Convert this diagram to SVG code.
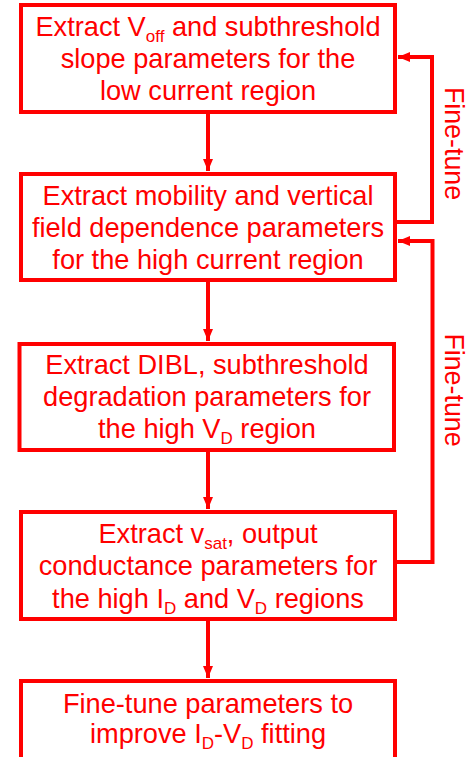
<svg xmlns="http://www.w3.org/2000/svg" width="471" height="757" viewBox="0 0 471 757">
<style>
.box{fill:#fff;stroke:#ff0000;stroke-width:4}
.t{font-family:"Liberation Sans",Arial,sans-serif;font-size:27.2px;fill:#ff0000;text-anchor:middle}
.s{font-size:17px}
.c{fill:none;stroke:#ff0000;stroke-width:4}
.lbl{font-family:"Liberation Sans",Arial,sans-serif;font-size:26.8px;fill:#ff0000;text-anchor:middle}
</style>
<defs>
<marker id="ah" viewBox="0 0 12 10" refX="12" refY="5" markerWidth="12" markerHeight="10" markerUnits="userSpaceOnUse" orient="auto">
<path d="M0,0 L12,5 L0,10 Z" fill="#ff0000"/>
</marker>
</defs>
<rect width="471" height="757" fill="#fff"/>
<g id="connectors">
<line class="c" x1="208" y1="114" x2="208" y2="171" marker-end="url(#ah)"/>
<line class="c" x1="208" y1="282" x2="208" y2="341" marker-end="url(#ah)"/>
<line class="c" x1="208" y1="452" x2="208" y2="509" marker-end="url(#ah)"/>
<line class="c" x1="208" y1="621" x2="208" y2="678" marker-end="url(#ah)"/>
<polyline class="c" points="397,222 432,222 432,57 398,57" marker-end="url(#ah)"/>
<polyline class="c" points="397,562 432.5,562 432.5,241 398,241" marker-end="url(#ah)"/>
<text class="lbl" transform="translate(445,143.5) rotate(90)">Fine-tune</text>
<text class="lbl" transform="translate(445,390) rotate(90)">Fine-tune</text>
</g>
<g id="n1">
<rect class="box" x="21" y="5" width="374" height="107"/>
<text class="t" x="208" y="36">Extract V<tspan class="s" dy="6">off</tspan><tspan dy="-6"> and subthreshold</tspan></text>
<text class="t" x="208" y="68">slope parameters for the</text>
<text class="t" x="208" y="100">low current region</text>
</g>
<g id="n2">
<rect class="box" x="21" y="174" width="374" height="106"/>
<text class="t" x="208" y="205">Extract mobility and vertical</text>
<text class="t" x="208" y="237">field dependence parameters</text>
<text class="t" x="208" y="269">for the high current region</text>
</g>
<g id="n3">
<rect class="box" x="19.5" y="344" width="374.5" height="106"/>
<text class="t" x="207" y="374">Extract DIBL, subthreshold</text>
<text class="t" x="207" y="406">degradation parameters for</text>
<text class="t" x="207" y="438">the high V<tspan class="s" dy="6">D</tspan><tspan dy="-6"> region</tspan></text>
</g>
<g id="n4">
<rect class="box" x="21" y="512" width="374" height="107"/>
<text class="t" x="208" y="543">Extract v<tspan class="s" dy="6">sat</tspan><tspan dy="-6">, output</tspan></text>
<text class="t" x="208" y="575">conductance parameters for</text>
<text class="t" x="208" y="608">the high I<tspan class="s" dy="6">D</tspan><tspan dy="-6"> and V</tspan><tspan class="s" dy="6">D</tspan><tspan dy="-6"> regions</tspan></text>
</g>
<g id="n5">
<rect class="box" x="21" y="681" width="374" height="90"/>
<text class="t" x="208" y="713">Fine-tune parameters to</text>
<text class="t" x="208" y="743">improve I<tspan class="s" dy="6">D</tspan><tspan dy="-6">-V</tspan><tspan class="s" dy="6">D</tspan><tspan dy="-6"> fitting</tspan></text>
</g>
</svg>
